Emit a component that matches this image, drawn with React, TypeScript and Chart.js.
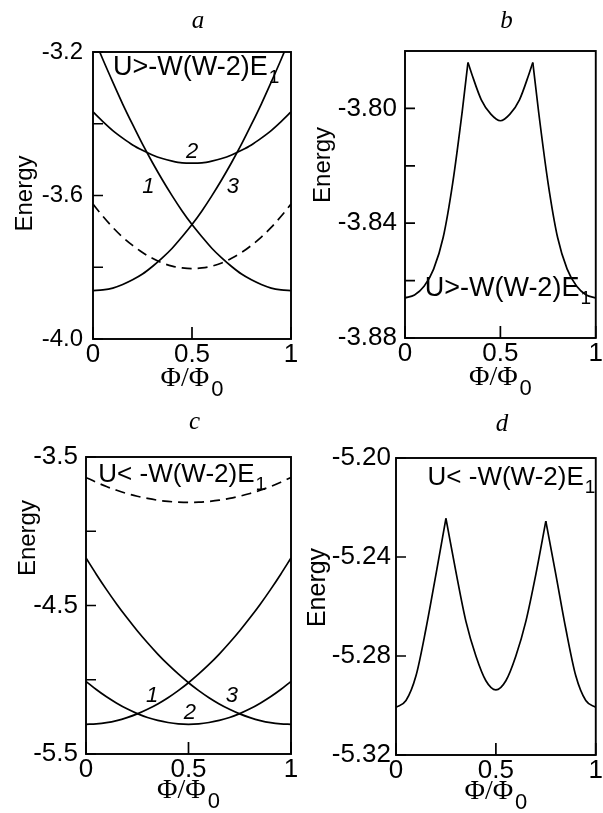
import React, { useEffect, useRef } from "react";
import { Chart, registerables } from "chart.js";

Chart.register(...registerables);

const PAGE_W = 603;
const PAGE_H = 813;
const SANS = '"Liberation Sans", Arial, Helvetica, sans-serif';
const SERIF = '"Liberation Serif", "Times New Roman", serif';

// ---------------- shared x data ----------------
const fluxGrid = [0, 0.05, 0.1, 0.15, 0.2, 0.25, 0.3, 0.35, 0.4, 0.45, 0.5, 0.55, 0.6, 0.65, 0.7, 0.75, 0.8, 0.85, 0.9, 0.95, 1];
const xTicks = [0, 0.5, 1];
const xTickLabels = ["0", "0.5", "1"];

// ---------------- panel a ----------------
const aFalling = [-3.155, -3.221, -3.284, -3.345, -3.402, -3.457, -3.508, -3.556, -3.601, -3.643, -3.681, -3.715, -3.747, -3.774, -3.798, -3.819, -3.835, -3.848, -3.858, -3.863, -3.865];
const aMiddle = [-3.367, -3.394, -3.419, -3.44, -3.459, -3.474, -3.487, -3.497, -3.504, -3.509, -3.51, -3.509, -3.504, -3.497, -3.487, -3.474, -3.459, -3.44, -3.419, -3.394, -3.367];
const aRising = [-3.865, -3.863, -3.858, -3.848, -3.835, -3.819, -3.798, -3.774, -3.747, -3.715, -3.681, -3.643, -3.601, -3.556, -3.508, -3.457, -3.402, -3.345, -3.284, -3.221, -3.155];
const aDashed = [-3.624, -3.658, -3.689, -3.716, -3.739, -3.759, -3.775, -3.788, -3.797, -3.802, -3.804, -3.802, -3.797, -3.788, -3.775, -3.759, -3.739, -3.716, -3.689, -3.658, -3.624];
const aYTicks = [-4.0, -3.8, -3.6, -3.4, -3.2];
const aYTickLabels = ["-4.0", "", "-3.6", "", "-3.2"];

// ---------------- panel b ----------------
const bFlux = [0, 0.05, 0.1, 0.15, 0.2, 0.25, 0.3, 0.33, 0.35, 0.4, 0.45, 0.5, 0.55, 0.6, 0.65, 0.67, 0.7, 0.75, 0.8, 0.85, 0.9, 0.95, 1];
const bGround = [-3.866, -3.865, -3.862, -3.856, -3.845, -3.826, -3.801, -3.784, -3.788, -3.797, -3.802, -3.8043, -3.802, -3.797, -3.788, -3.784, -3.801, -3.826, -3.845, -3.856, -3.862, -3.865, -3.866];
const bCusps = [0.33, 0.67];
const bYTicks = [-3.88, -3.86, -3.84, -3.82, -3.8];
const bYTickLabels = ["-3.88", "", "-3.84", "", "-3.80"];

// ---------------- panel c ----------------
const cFalling = [-4.18, -4.289, -4.393, -4.491, -4.583, -4.67, -4.751, -4.827, -4.897, -4.961, -5.02, -5.073, -5.121, -5.163, -5.199, -5.23, -5.255, -5.275, -5.289, -5.297, -5.3];
const cMiddle = [-5.011, -5.066, -5.115, -5.158, -5.196, -5.228, -5.254, -5.274, -5.288, -5.297, -5.3, -5.297, -5.288, -5.274, -5.254, -5.228, -5.196, -5.158, -5.115, -5.066, -5.011];
const cRising = [-5.3, -5.297, -5.289, -5.275, -5.255, -5.23, -5.199, -5.163, -5.121, -5.073, -5.02, -4.961, -4.897, -4.827, -4.751, -4.67, -4.583, -4.491, -4.393, -4.289, -4.18];
const cDashed = [-3.638, -3.67, -3.699, -3.724, -3.746, -3.764, -3.779, -3.791, -3.799, -3.804, -3.806, -3.804, -3.799, -3.791, -3.779, -3.764, -3.746, -3.724, -3.699, -3.67, -3.638];
const cYTicks = [-5.5, -5.0, -4.5, -4.0, -3.5];
const cYTickLabels = ["-5.5", "", "-4.5", "", "-3.5"];

// ---------------- panel d ----------------
const dGround = [-5.3007, -5.298, -5.288, -5.269, -5.247, -5.2244, -5.246, -5.266, -5.28, -5.29, -5.2937, -5.29, -5.28, -5.266, -5.247, -5.2255, -5.247, -5.269, -5.288, -5.298, -5.3007];
const dCusps = [0.25, 0.75];
const dYTicks = [-5.32, -5.28, -5.24, -5.2];
const dYTickLabels = ["-5.32", "-5.28", "-5.24", "-5.20"];

// ---------------- curve labels ----------------
const aNotes = [
  { text: "1", x: 0.28, y: -3.575 },
  { text: "2", x: 0.5, y: -3.478 },
  { text: "3", x: 0.706, y: -3.575 },
];
const cNotes = [
  { text: "1", x: 0.323, y: -5.108 },
  { text: "2", x: 0.507, y: -5.221 },
  { text: "3", x: 0.711, y: -5.108 },
];

type Series = { xs: number[]; ys: number[]; dashed?: boolean; cusps?: number[] };

type PanelCfg = {
  id: string;
  area: { left: number; top: number; right: number; bottom: number };
  yMin: number;
  yMax: number;
  yTicks: number[];
  yTickLabels: string[];
  yFont: number;
  yPad: number;
  series: Series[];
  notes: { text: string; x: number; y: number }[];
  cond: { text: string; sub: string; x: number; y: number; size: number };
  letter: string;
  letterBaseline: number;
  energy: { dx: number; frac: number; size: number };
  xTitleDy: number;
};

const panels: PanelCfg[] = [
  {
    id: "a",
    area: { left: 93, top: 52, right: 291, bottom: 339 },
    yMin: -4.0,
    yMax: -3.2,
    yTicks: aYTicks,
    yTickLabels: aYTickLabels,
    yFont: 24,
    yPad: 10,
    series: [
      { xs: fluxGrid, ys: aFalling },
      { xs: fluxGrid, ys: aMiddle },
      { xs: fluxGrid, ys: aRising },
      { xs: fluxGrid, ys: aDashed, dashed: true },
    ],
    notes: aNotes,
    cond: { text: "U>-W(W-2)E", sub: "1", x: 0.101, y: -3.265, size: 27 },
    letter: "a",
    letterBaseline: 28,
    energy: { dx: 68, frac: 0.493, size: 24 },
    xTitleDy: 47,
  },
  {
    id: "b",
    area: { left: 405, top: 51, right: 599, bottom: 338 },
    yMin: -3.88,
    yMax: -3.78,
    yTicks: bYTicks,
    yTickLabels: bYTickLabels,
    yFont: 26,
    yPad: 8,
    series: [{ xs: bFlux, ys: bGround, cusps: bCusps }],
    notes: [],
    cond: { text: "U>-W(W-2)E", sub: "1", x: 0.103, y: -3.8655, size: 27 },
    letter: "b",
    letterBaseline: 28,
    energy: { dx: 82, frac: 0.397, size: 24 },
    xTitleDy: 47,
  },
  {
    id: "c",
    area: { left: 86, top: 457, right: 291, bottom: 754 },
    yMin: -5.5,
    yMax: -3.5,
    yTicks: cYTicks,
    yTickLabels: cYTickLabels,
    yFont: 26,
    yPad: 8,
    series: [
      { xs: fluxGrid, ys: cFalling },
      { xs: fluxGrid, ys: cMiddle },
      { xs: fluxGrid, ys: cRising },
      { xs: fluxGrid, ys: cDashed, dashed: true },
    ],
    notes: cNotes,
    cond: { text: "U< -W(W-2)E", sub: "1", x: 0.06, y: -3.669, size: 26 },
    letter: "c",
    letterBaseline: 429,
    energy: { dx: 58, frac: 0.273, size: 24 },
    xTitleDy: 44,
  },
  {
    id: "d",
    area: { left: 396, top: 458, right: 601, bottom: 755 },
    yMin: -5.32,
    yMax: -5.2,
    yTicks: dYTicks,
    yTickLabels: dYTickLabels,
    yFont: 26,
    yPad: 5,
    series: [{ xs: fluxGrid, ys: dGround, cusps: dCusps }],
    notes: [],
    cond: { text: "U< -W(W-2)E", sub: "1", x: 0.158, y: -5.2111, size: 26 },
    letter: "d",
    letterBaseline: 431,
    energy: { dx: 78, frac: 0.436, size: 25 },
    xTitleDy: 44,
  },
];

function splitSeries(s: Series) {
  const cusps = s.cusps || [];
  const segs: { x: number; y: number }[][] = [];
  let cur: { x: number; y: number }[] = [];
  s.xs.forEach((x, i) => {
    cur.push({ x, y: s.ys[i] });
    if (i > 0 && i < s.xs.length - 1 && cusps.includes(x)) {
      segs.push(cur);
      cur = [{ x, y: s.ys[i] }];
    }
  });
  segs.push(cur);
  return segs.map((data) => ({
    data,
    borderColor: "#000",
    borderWidth: 1.7,
    borderDash: s.dashed ? [10, 6] : [],
    pointRadius: 0,
    fill: false,
    cubicInterpolationMode: "monotone" as const,
  }));
}

function makeDeco(p: PanelCfg) {
  return {
    id: "deco" + p.id,
    afterDraw(chart: any) {
      const ctx: CanvasRenderingContext2D = chart.ctx;
      const ca = chart.chartArea;
      const xs = chart.scales.x;
      const ys = chart.scales.y;
      ctx.save();
      ctx.setLineDash([]);
      ctx.strokeStyle = "#000";
      ctx.lineWidth = 1.9;
      ctx.strokeRect(ca.left, ca.top, ca.right - ca.left, ca.bottom - ca.top);
      ctx.lineWidth = 1.7;
      ctx.beginPath();
      p.yTicks.forEach((v) => {
        const py = ys.getPixelForValue(v);
        ctx.moveTo(ca.left, py);
        ctx.lineTo(ca.left + 10, py);
      });
      xTicks.forEach((v) => {
        const px = xs.getPixelForValue(v);
        ctx.moveTo(px, ca.bottom);
        ctx.lineTo(px, ca.bottom - 12);
      });
      ctx.stroke();

      ctx.fillStyle = "#000";
      // curve numbers
      ctx.font = `italic 22px ${SANS}`;
      ctx.textAlign = "center";
      ctx.textBaseline = "middle";
      p.notes.forEach((n) => {
        ctx.fillText(n.text, xs.getPixelForValue(n.x), ys.getPixelForValue(n.y));
      });

      // condition text with subscript
      ctx.textAlign = "left";
      ctx.textBaseline = "alphabetic";
      ctx.font = `${p.cond.size}px ${SANS}`;
      const cx = xs.getPixelForValue(p.cond.x);
      const cy = ys.getPixelForValue(p.cond.y);
      ctx.fillText(p.cond.text, cx, cy);
      const w = ctx.measureText(p.cond.text).width;
      ctx.font = `${Math.round(p.cond.size * 0.72)}px ${SANS}`;
      ctx.fillText(p.cond.sub, cx + w + 1, cy + 8);

      // y title
      ctx.save();
      ctx.translate(ca.left - p.energy.dx, ca.top + p.energy.frac * (ca.bottom - ca.top));
      ctx.rotate(-Math.PI / 2);
      ctx.font = `${p.energy.size}px ${SANS}`;
      ctx.textAlign = "center";
      ctx.textBaseline = "middle";
      ctx.fillText("Energy", 0, 0);
      ctx.restore();

      // x title Φ/Φ0
      const mid = (ca.left + ca.right) / 2;
      const base = ca.bottom + p.xTitleDy;
      ctx.font = `28px ${SERIF}`;
      const main = "Φ/Φ";
      const mw = ctx.measureText(main).width;
      ctx.font = `22px ${SANS}`;
      const sw = ctx.measureText("0").width;
      const start = mid - (mw + sw + 2) / 2;
      ctx.textAlign = "left";
      ctx.textBaseline = "alphabetic";
      ctx.font = `28px ${SERIF}`;
      ctx.fillText(main, start, base);
      ctx.font = `22px ${SANS}`;
      ctx.fillText("0", start + mw + 2, base + 10);

      // panel letter
      ctx.font = `italic 25px ${SERIF}`;
      ctx.textAlign = "center";
      ctx.fillText(p.letter, mid + 6, p.letterBaseline);
      ctx.restore();
    },
  };
}

const YW = 85;
const XH = 40;

function Panel({ p }: { p: PanelCfg }) {
  const ref = useRef<HTMLCanvasElement>(null);
  useEffect(() => {
    const canvas = ref.current!;
    const datasets = p.series.flatMap(splitSeries);
    const chart = new Chart(canvas, {
      type: "line",
      data: { datasets },
      options: {
        responsive: false,
        animation: false,
        devicePixelRatio: 1,
        events: [],
        layout: {
          autoPadding: false,
          padding: {
            left: p.area.left - YW,
            top: p.area.top,
            right: PAGE_W - p.area.right,
            bottom: PAGE_H - p.area.bottom - XH,
          },
        },
        plugins: {
          legend: { display: false },
          tooltip: { enabled: false },
          title: { display: false },
        },
        scales: {
          x: {
            type: "linear",
            min: 0,
            max: 1,
            afterFit: (s: any) => {
              s.height = XH;
            },
            afterBuildTicks: (s: any) => {
              s.ticks = xTicks.map((v) => ({ value: v }));
            },
            grid: { display: false, drawTicks: false },
            border: { display: false },
            ticks: {
              autoSkip: false,
              maxRotation: 0,
              minRotation: 0,
              padding: 0,
              color: "#000",
              font: { family: SANS, size: 26 },
              callback: (_v: any, i: number) => xTickLabels[i],
            },
          },
          y: {
            type: "linear",
            min: p.yMin,
            max: p.yMax,
            afterFit: (s: any) => {
              s.width = YW;
            },
            afterBuildTicks: (s: any) => {
              s.ticks = p.yTicks.map((v) => ({ value: v }));
            },
            grid: { display: false, drawTicks: false },
            border: { display: false },
            ticks: {
              autoSkip: false,
              padding: p.yPad,
              color: "#000",
              font: { family: SANS, size: p.yFont },
              callback: (_v: any, i: number) => p.yTickLabels[i],
            },
          },
        },
      } as any,
      plugins: [makeDeco(p)],
    });
    return () => chart.destroy();
  }, [p]);
  return (
    <canvas
      ref={ref}
      width={PAGE_W}
      height={PAGE_H}
      style={{ position: "absolute", left: 0, top: 0, width: PAGE_W, height: PAGE_H }}
    />
  );
}

export default function App() {
  return (
    <div
      style={{
        position: "fixed",
        left: 0,
        top: 0,
        width: PAGE_W,
        height: PAGE_H,
        background: "#fff",
        overflow: "hidden",
      }}
    >
      {panels.map((p) => (
        <Panel key={p.id} p={p} />
      ))}
    </div>
  );
}
